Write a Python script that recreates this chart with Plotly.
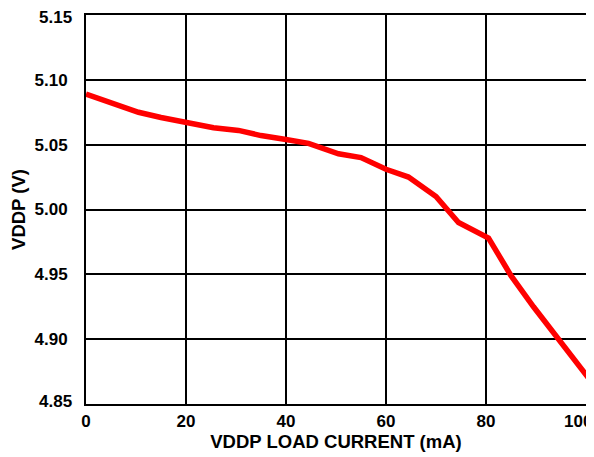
import plotly.graph_objects as go

load_current_ma = [0, 5, 10.5, 15, 20, 25.5, 30.5, 35, 40, 44.5, 50.5, 55, 60, 64.5, 70, 74.5, 80.5, 85, 89.5, 95, 100.5]
vddp_v = [5.089, 5.082, 5.075, 5.071, 5.067, 5.063, 5.061, 5.057, 5.054, 5.051, 5.043, 5.040, 5.031, 5.025, 5.010, 4.990, 4.978, 4.949, 4.925, 4.898, 4.870]

x_ticks = [0, 20, 40, 60, 80, 100]
y_ticks = [4.85, 4.90, 4.95, 5.00, 5.05, 5.10, 5.15]

fig = go.Figure()
fig.add_trace(go.Scatter(x=load_current_ma, y=vddp_v, mode="lines",
                         line=dict(color="#ff0000", width=5.5), showlegend=False))

font = dict(family="Liberation Sans, Arial, sans-serif", size=17, color="black")
fig.update_layout(
    width=586, height=449,
    margin=dict(l=78, r=8, t=7, b=53),
    plot_bgcolor="white", paper_bgcolor="white",
    font=font,
)
# edge tick labels are placed as annotations so they stay inside the page
x_text = [f"<b>{v}</b>" for v in x_ticks[:-1]] + [""]
fig.add_annotation(x=x_ticks[-1], xref="x", y=0, yref="paper",
                   text=f"<b>{x_ticks[-1]}</b>", showarrow=False,
                   xanchor="right", yanchor="middle", xshift=8, yshift=-17,
                   font=dict(size=17, color="black"))
y_text = [""] + [f"<b>{v:.2f}</b>" for v in y_ticks[1:-1]] + [""]
for val, dy in ((y_ticks[0], 3), (y_ticks[-1], -2)):
    fig.add_annotation(x=0, xref="paper", y=val, yref="y",
                       text=f"<b>{val:.2f}</b>", showarrow=False,
                       xanchor="right", yanchor="middle", xshift=-12, yshift=dy,
                       font=dict(size=17, color="black"))

fig.update_xaxes(
    range=[0, 100], tickvals=x_ticks, ticktext=x_text,
    showgrid=True, gridcolor="black", gridwidth=2,
    showline=True, linecolor="black", linewidth=2, mirror=True,
    zeroline=False, ticks="", ticklen=0, automargin=False,
    ticklabeloverflow="allow", ticklabelstandoff=1,
    title=dict(text="<b>VDDP LOAD CURRENT (mA)</b>", standoff=5, font=dict(size=18.5)),
)
fig.update_yaxes(
    range=[4.85, 5.15], tickvals=y_ticks, ticktext=y_text,
    showgrid=True, gridcolor="black", gridwidth=2,
    showline=True, linecolor="black", linewidth=2, mirror=True,
    zeroline=False, ticks="", ticklen=0, automargin=False,
    ticklabeloverflow="allow", ticklabelstandoff=13,
    title=dict(text="<b>VDDP (V)</b>", standoff=13, font=dict(size=18.5)),
)
fig.write_html("out.html")
